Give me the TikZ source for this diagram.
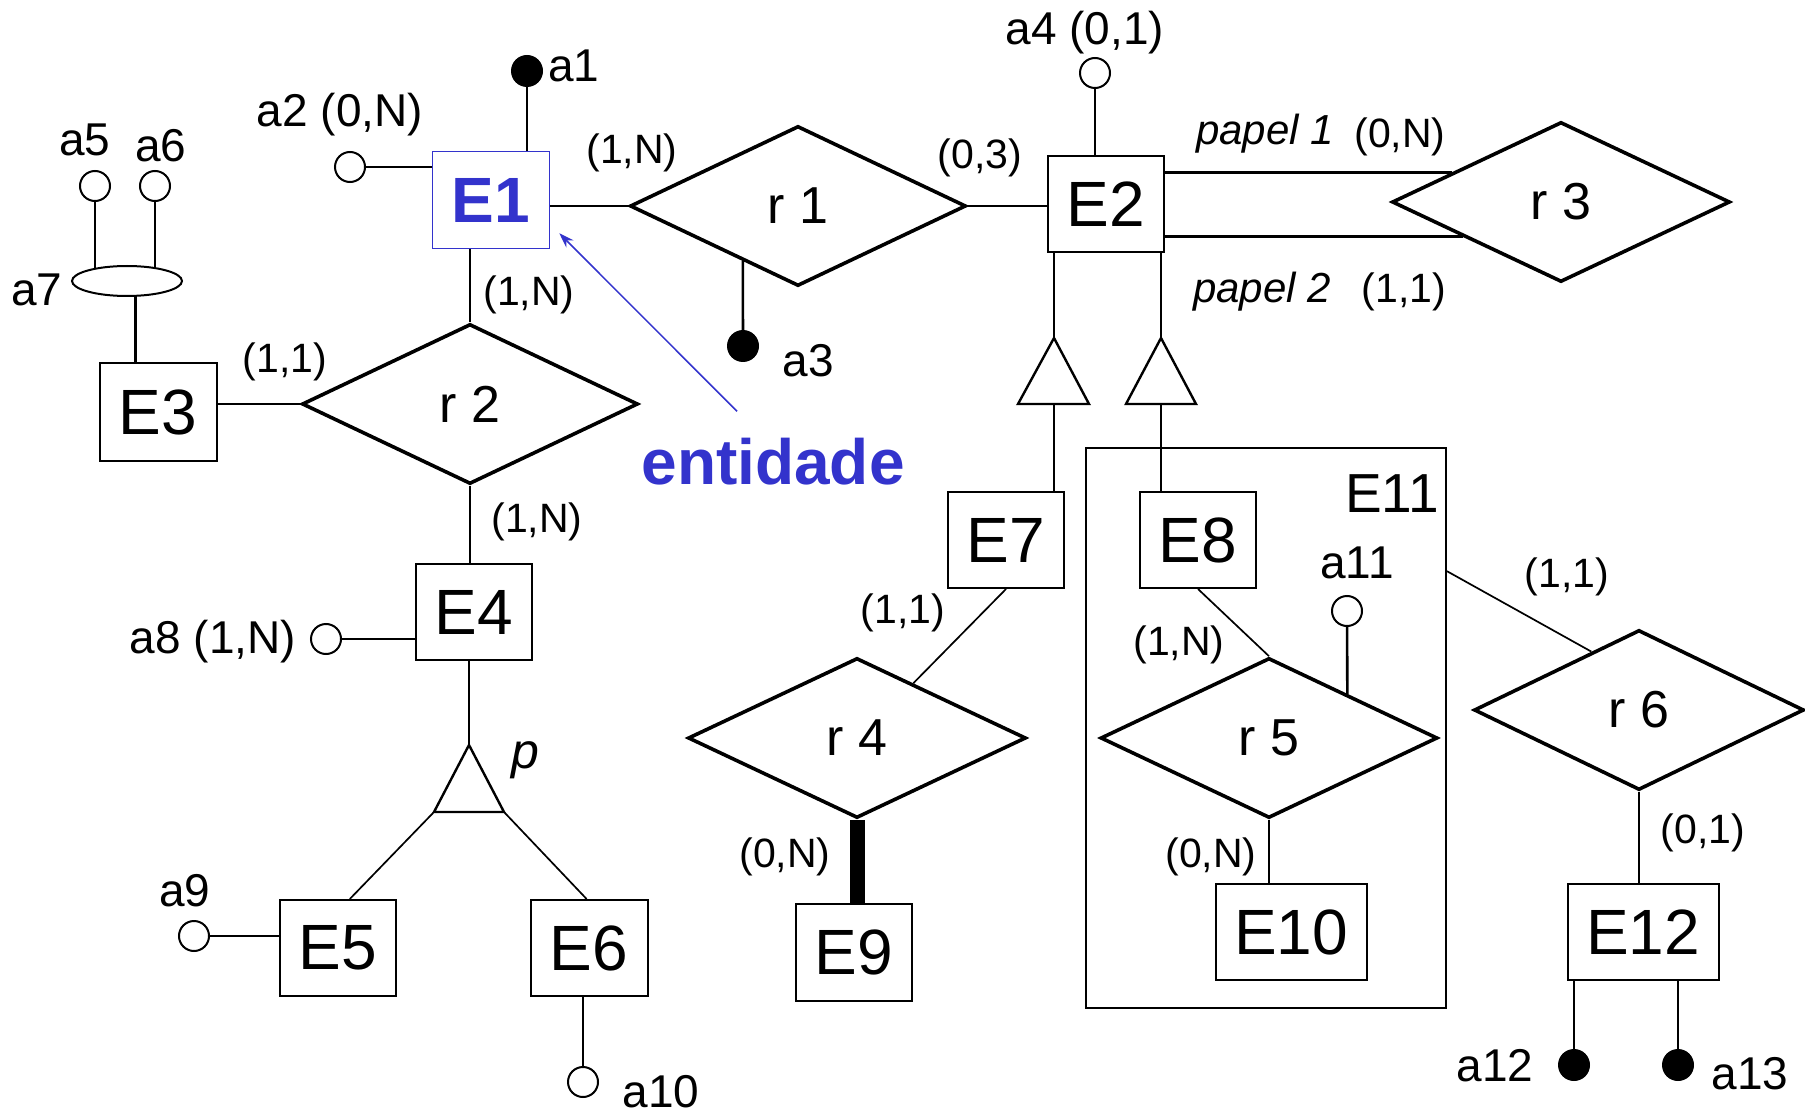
\documentclass[tikz,border=0pt]{standalone}
\usepackage{fontspec}
\setmainfont{Liberation Sans}
\usetikzlibrary{shapes.geometric,calc,arrows.meta,backgrounds}
\definecolor{eblue}{RGB}{51,51,204}
\begin{document}
\begin{tikzpicture}[x=1pt,y=-1pt,
  ent/.style={draw, rectangle, line width=2pt, minimum width=116pt, minimum height=96pt, inner sep=0pt, fill=white, font=\fontsize{64}{64}\selectfont},
  rel/.style={draw, diamond, line width=3.6pt, minimum width=336pt, minimum height=160pt, inner sep=0pt, fill=white, font=\fontsize{52}{52}\selectfont},
  attro/.style={circle, draw, line width=2pt, minimum size=30pt, inner sep=0pt, fill=white},
  attrf/.style={circle, fill=black, minimum size=32pt, inner sep=0pt},
  lbl/.style={inner sep=0pt, font=\fontsize{46}{46}\selectfont},
  card/.style={inner sep=0pt, font=\fontsize{41}{41}\selectfont},
  role/.style={inner sep=0pt, font=\itshape\fontsize{42}{42}\selectfont},
  conn/.style={line width=2.6pt},
  thinc/.style={line width=1.7pt},
  tri/.style={line width=2.4pt, line join=miter}
]
\useasboundingbox (0,0) rectangle (1805,1115);

% entities
\node[ent, draw=eblue, line width=1.5pt, text=eblue, font=\bfseries\fontsize{64}{64}\selectfont, minimum width=117pt, minimum height=97pt] (E1) at (491,200) {E1};
\node[ent] (E2) at (1106,204) {E2};
\node[ent, minimum width=117pt, minimum height=97pt] (E3) at (158,412) {E3};
\node[ent] (E4) at (474,612) {E4};
\node[ent] (E5) at (338,948) {E5};
\node[ent, minimum width=117pt] (E6) at (589,948) {E6};
\node[ent] (E7) at (1006,540) {E7};
\node[ent] (E8) at (1198,540) {E8};
\node[ent, minimum height=97pt] (E9) at (854,952) {E9};
\node[ent, minimum width=151pt] (E10) at (1291,932) {E10};
\node[ent, minimum width=151pt] (E12) at (1643,932) {E12};
\node[draw, line width=2pt, minimum width=360pt, minimum height=560pt, inner sep=0pt] (E11) at (1266,728) {};
\node[inner sep=0pt, font=\fontsize{55}{55}\selectfont] (E11t) at (1392,494) {E11};

% relationships
\node[rel] (r1) at (798,206) {r 1};
\node[rel] (r2) at (470,404) {r 2};
\node[rel, minimum width=338pt] (r3) at (1561,202) {r 3};
\node[rel, minimum width=338pt] (r4) at (857,738) {r 4};
\node[rel, minimum width=337pt] (r5) at (1269,738) {r 5};
\node[rel, minimum width=330pt] (r6) at (1639,710) {r 6};

% attributes
\node[attrf] (a1) at (527,71) {};
\node[attro] (a2) at (350,167) {};
\node[attrf] (a3) at (743,346) {};
\node[attro] (a4) at (1095,73) {};
\node[attro] (a5) at (95,186) {};
\node[attro] (a6) at (155,186) {};
\node[draw, ellipse, line width=2pt, minimum width=110pt, minimum height=30pt, inner sep=0pt, fill=white] (a7) at (127,281) {};
\node[attro] (a8) at (326,639) {};
\node[attro] (a9) at (194,936) {};
\node[attro] (a10) at (583,1082) {};
\node[attro] (a11) at (1347,611) {};
\node[attrf] (a12) at (1574,1065) {};
\node[attrf] (a13) at (1678,1065) {};

% attribute labels
\node[lbl] (la1) at (574,66) {a1};
\node[lbl] (la2) at (340,115) {a2 (0,N)};
\node[lbl] (la3) at (808,361) {a3};
\node[lbl] (la4) at (1085,33) {a4 (0,1)};
\node[lbl] (la5) at (85,140) {a5};
\node[lbl] (la6) at (161,146) {a6};
\node[lbl] (la7) at (37,290) {a7};
\node[lbl] (la8) at (213,642) {a8 (1,N)};
\node[lbl] (la9) at (185,891) {a9};
\node[lbl] (la10) at (661,1092) {a10};
\node[lbl] (la11) at (1357,563) {a11};
\node[lbl] (la12) at (1495,1066) {a12};
\node[lbl] (la13) at (1750,1074) {a13};

% cardinalities
\node[card] (c1) at (632,153) {(1,N)};
\node[card] (c2) at (529,295) {(1,N)};
\node[card] (c3) at (285,362) {(1,1)};
\node[card] (c4) at (537,522) {(1,N)};
\node[card] (c5) at (980,158) {(0,3)};
\node[card] (c6) at (903,613) {(1,1)};
\node[card] (c7) at (785,857) {(0,N)};
\node[card] (c8) at (1179,645) {(1,N)};
\node[card] (c9) at (1211,857) {(0,N)};
\node[card] (c10) at (1567,577) {(1,1)};
\node[card] (c11) at (1703,833) {(0,1)};
\node[role] (p1) at (1265,134) {papel 1};
\node[card] (c12) at (1400,137) {(0,N)};
\node[role] (p2) at (1262,292) {papel 2};
\node[card] (c13) at (1404,292) {(1,1)};
\node[inner sep=0pt, font=\itshape\fontsize{50}{50}\selectfont] (pl) at (525,760) {p};

\node[inner sep=0pt, text=eblue, font=\bfseries\fontsize{64}{64}\selectfont] (entidade) at (773,462) {entidade};

% helper coordinates
\coordinate (pA) at (469,745);
\coordinate (pL) at (434,812);
\coordinate (pR) at (504,812);
\coordinate (t1A) at (1054,338);
\coordinate (t1L) at (1018,404);
\coordinate (t1R) at (1089,404);
\coordinate (t1B) at (1054,404);
\coordinate (t2A) at (1161,338);
\coordinate (t2L) at (1126,404);
\coordinate (t2R) at (1196,404);
\coordinate (t2B) at (1161,404);
\coordinate (r1a) at ($(r1.west)!0.675!(r1.south)$);
\coordinate (r3u) at ($(r3.west)!0.3625!(r3.north)$);
\coordinate (r3l) at ($(r3.west)!0.425!(r3.south)$);
\coordinate (r4u) at ($(r4.north)!0.33!(r4.east)$);
\coordinate (r5u) at ($(r5.north)!0.46!(r5.east)$);
\coordinate (E11p) at ($(E11.north east)!0.221!(E11.south east)$);
\coordinate (r6u) at ($(r6.west)!0.714!(r6.north)$);
\coordinate (E3t) at ($(E3.north west)!0.31!(E3.north east)$);
\coordinate (E5t) at ($(E5.north west)!0.6!(E5.north east)$);
\coordinate (E6t) at ($(E6.north west)!0.48!(E6.north east)$);
\coordinate (entTail) at ($(entidade.north)+(-36,-27)$);
\coordinate (E1tip) at ($(E1.south east)+(9,-16)$);

\begin{scope}[on background layer]
\draw[conn] (a5) -- (a5 |- a7.center);
\draw[conn] (a6) -- (a6 |- a7.center);
\draw[conn] (E3t) -- (E3t |- a7.center);
\end{scope}

% connectors
\draw[conn] (a1) -- (a1 |- E1.north);
\draw[conn] (a2) -- (a2 -| E1.west);
\draw[conn] (a3) -- (r1a);
\draw[conn] (a4) -- (a4 |- E2.north);
\draw[conn] (E1.south -| r2.north) -- (r2.north);
\draw[conn] (E1.east |- r1.west) -- (r1.west);
\draw[conn] (r1.east) -- (r1.east -| E2.west);
\draw[conn] (E3.east |- r2.west) -- (r2.west);
\draw[conn] (r2.south) -- (r2.south |- E4.north);
\draw[conn] (a8) -- (a8 -| E4.west);
\draw[conn] (E4.south -| pA) -- (pA);
\draw[tri] (pA) -- (pL) -- (pR) -- cycle;
\draw[thinc] (pL) -- (E5t);
\draw[thinc] (pR) -- (E6t);
\draw[conn] (a9) -- (a9 -| E5.west);
\draw[conn] (a10) -- (a10 |- E6.south);

\draw[conn] (E2.south -| t1A) -- (t1A);
\draw[conn] (E2.south -| t2A) -- (t2A);
\draw[tri] (t1A) -- (t1L) -- (t1R) -- cycle;
\draw[tri] (t2A) -- (t2L) -- (t2R) -- cycle;
\draw[conn] (t1B) -- (t1B |- E7.north);
\draw[conn] (t2B) -- (t2B |- E8.north);

\draw[line width=2.4pt] (E2.east |- r3u) -- (r3u);
\draw[line width=3pt] (E2.east |- r3l) -- (r3l);

\draw[thinc] (E7.south) -- (r4u);
\draw[line width=15pt] (r4.south) -- (r4.south |- E9.north);
\draw[thinc] (E8.south) -- (r5.north);
\draw[conn] (a11) -- (r5u);
\draw[conn] (r5.south) -- (r5.south |- E10.north);
\draw[thinc] (E11p) -- (r6u);
\draw[conn] (r6.south) -- (r6.south |- E12.north);
\draw[conn] (a12) -- (a12 |- E12.south);
\draw[conn] (a13) -- (a13 |- E12.south);

\draw[eblue, line width=1.5pt, -{Stealth[length=15pt,width=10pt]}] (entTail) -- (E1tip);
\end{tikzpicture}
\end{document}
